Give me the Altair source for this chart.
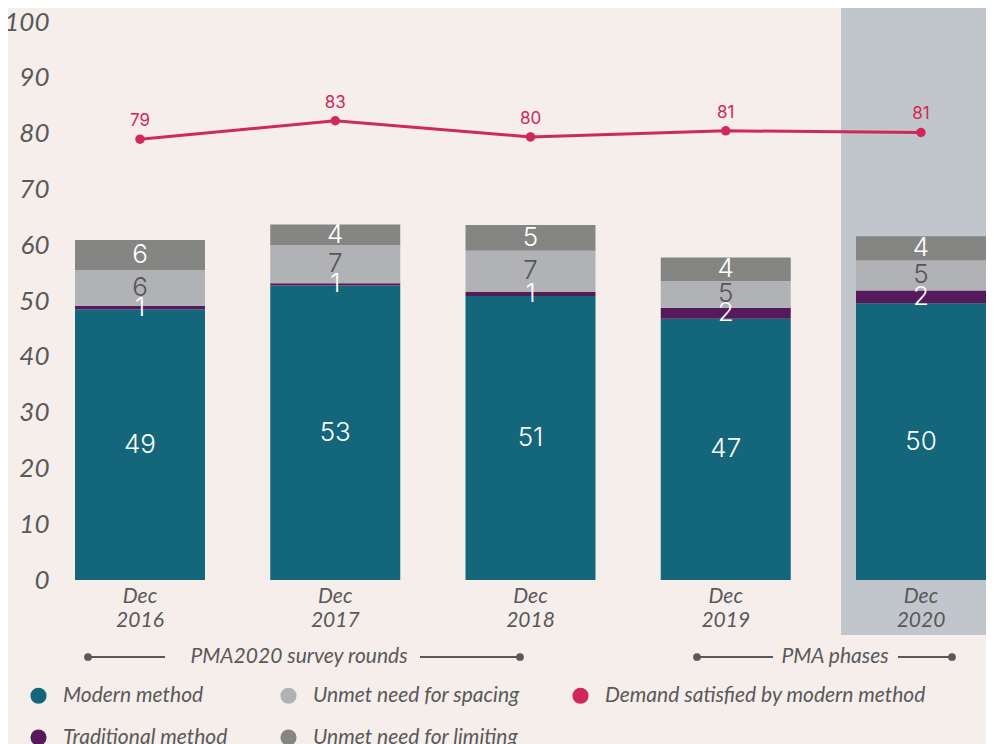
import altair as alt
import pandas as pd

years = ["Dec 2016", "Dec 2017", "Dec 2018", "Dec 2019", "Dec 2020"]
modern = [48.5, 52.8, 50.9, 46.8, 49.6]
traditional = [0.6, 0.4, 0.7, 2.0, 2.3]
spacing = [6.45, 6.8, 7.4, 4.8, 5.4]
limiting = [5.4, 3.7, 4.6, 4.2, 4.3]
modern_lbl = [49, 53, 51, 47, 50]
traditional_lbl = [1, 1, 1, 2, 2]
spacing_lbl = [6, 7, 7, 5, 5]
limiting_lbl = [6, 4, 5, 4, 4]
demand = [79.0, 82.3, 79.4, 80.5, 80.2]
demand_lbl = [79, 83, 80, 81, 81]

cats = ["Modern method", "Traditional method", "Unmet need for spacing", "Unmet need for limiting"]
series = [modern, traditional, spacing, limiting]
series_lbl = [modern_lbl, traditional_lbl, spacing_lbl, limiting_lbl]
lbl_colors = ["#ffffff", "#ffffff", "#555555", "#ffffff"]

legend_domain = ["Modern method", "Unmet need for spacing", "Demand satisfied by modern method",
                 "Traditional method", "Unmet need for limiting"]
legend_colors = ["#14667b", "#b1b2b5", "#d1285a", "#561a5a", "#858684"]

rows = []
for i, yr in enumerate(years):
    base = 0.0
    for k, c in enumerate(cats):
        v = series[k][i]
        rows.append(dict(year=yr, cat=c, start=base, end=base + v, mid=base + v / 2,
                         label=str(series_lbl[k][i]), lc=lbl_colors[k]))
        base += v
bars_df = pd.DataFrame(rows)
line_df = pd.DataFrame({"year": years, "demand": demand, "label": [str(v) for v in demand_lbl]})
band_df = pd.DataFrame({"year": ["Dec 2020"]})

GRAY = "#595959"
LINE = "#d1285a"

xscale = alt.Scale(domain=years, paddingInner=0.3342, paddingOuter=0)
x_enc = alt.X("year:N", sort=years, scale=xscale,
              axis=alt.Axis(title=None, domain=False, ticks=False, labelAngle=0,
                            labelAlign="center", zindex=1,
                            labelExpr="split(datum.label, ' ')", labelFont="Lato",
                            labelFontStyle="italic", labelFontSize=21, labelColor=GRAY,
                            labelPadding=16, labelLineHeight=24))
yscale = alt.Scale(domain=[0, 100], nice=False)

band = alt.Chart(band_df).mark_bar(width=alt.RelativeBandSize(band=1.2308), color="#c1c5cc").encode(
    x=alt.X("year:N", sort=years, scale=xscale),
    y=alt.value(-22), y2=alt.value(613))

bars = alt.Chart(bars_df).mark_bar().encode(
    x=x_enc,
    y=alt.Y("start:Q", scale=yscale,
            axis=alt.Axis(title=None, domain=False, ticks=False, grid=False,
                          values=list(range(0, 101, 10)), labelFont="Lato",
                          labelFontStyle="italic", labelFontSize=26, labelColor=GRAY,
                          labelPadding=26)),
    y2="end:Q",
    color=alt.Color("cat:N", scale=alt.Scale(domain=legend_domain, range=legend_colors),
                    legend=alt.Legend(title=None, orient="none", legendX=-47, legendY=663,
                                      direction="horizontal", columns=3, symbolType="circle",
                                      symbolSize=260, symbolStrokeWidth=0, labelFont="Lato",
                                      labelFontStyle="italic", labelFontSize=21,
                                      labelColor=GRAY, labelOffset=14, columnPadding=50,
                                      rowPadding=20, labelLimit=0)))

bar_text = alt.Chart(bars_df).mark_text(font="Inter", fontWeight=300, fontSize=26,
                                        baseline="middle").encode(
    x=alt.X("year:N", sort=years, scale=xscale),
    y=alt.Y("mid:Q", scale=yscale),
    text="label:N",
    color=alt.Color("lc:N", scale=None))

line = alt.Chart(line_df).mark_line(color=LINE, strokeWidth=3).encode(
    x=alt.X("year:N", sort=years, scale=xscale), y=alt.Y("demand:Q", scale=yscale))
pts = alt.Chart(line_df).mark_point(filled=True, color=LINE, size=90, opacity=1).encode(
    x=alt.X("year:N", sort=years, scale=xscale), y=alt.Y("demand:Q", scale=yscale))
line_text = alt.Chart(line_df).mark_text(font="Inter", fontSize=17, color=LINE, dy=-18,
                                         baseline="middle").encode(
    x=alt.X("year:N", sort=years, scale=xscale), y=alt.Y("demand:Q", scale=yscale),
    text="label:N")

# bracket annotations (decoration)
ann = []
def seg(x1, x2, y):
    return alt.Chart(line_df).mark_rule(color=GRAY, strokeWidth=2).encode(
        x=alt.value(x1), x2=alt.value(x2), y=alt.value(y))
def dot(x, y):
    return alt.Chart(band_df).mark_circle(color=GRAY, size=60, opacity=1).encode(
        x=alt.value(x), y=alt.value(y))
def label(x, y, t):
    return alt.Chart(band_df).mark_text(font="Lato", fontStyle="italic", fontSize=21,
                                        color=GRAY, baseline="middle").encode(
        x=alt.value(x), y=alt.value(y), text=alt.value(t))

ann += [seg(13, 90, 635), dot(13, 635), label(224, 635, "PMA2020 survey rounds"),
        seg(345, 445, 635), dot(445, 635),
        seg(622, 698, 635), dot(622, 635), label(760, 635, "PMA phases"),
        seg(823, 877, 635), dot(877, 635)]

chart = alt.layer(band, bars, bar_text, line, pts, line_text, *ann).properties(
    width=911, height=558,
    autosize=alt.AutoSizeParams(type="none"),
    padding={"left": 67, "top": 14, "right": 0, "bottom": 164},
    background="#f5eeeb"
).configure_view(stroke=None)

chart.save("out.html", embed_options={"renderer": "svg", "actions": False})
